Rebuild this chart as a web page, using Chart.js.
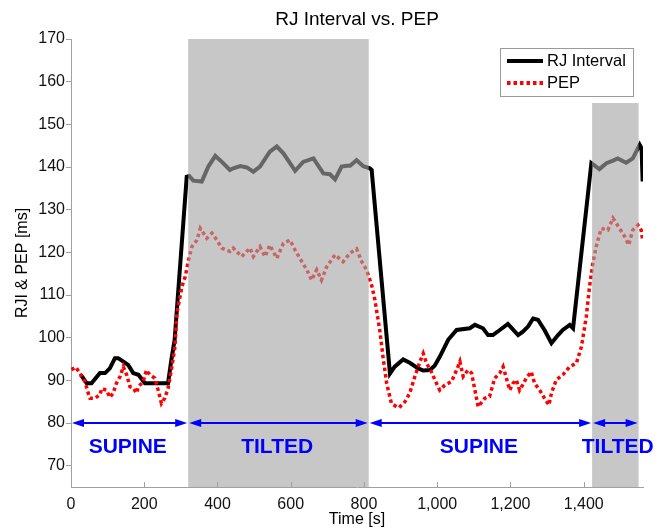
<!DOCTYPE html>
<html>
<head>
<meta charset="utf-8">
<script src="https://cdn.jsdelivr.net/npm/chart.js@4.4.0/dist/chart.umd.min.js"></script>
<style>
  html, body { margin: 0; padding: 0; background: #fff; }
</style>
</head>
<body>
<canvas id="rjChart" width="667" height="529"></canvas>
<script>
// RJ interval (black line), time in s / value in ms
const rjTime = [27, 43, 56, 79, 93, 106, 120, 129, 143, 156, 170, 184, 202, 265, 274, 283, 316, 323, 334, 357,
    375, 394, 412, 434, 443, 462, 480, 498, 516, 543, 562, 580, 598, 612, 634, 662, 689, 707, 721, 739,
    753, 762, 780, 798, 816, 821, 871, 884, 907, 925, 948, 962, 980, 993, 1007, 1030, 1053, 1089, 1103, 1125,
    1139, 1152, 1171, 1193, 1221, 1234, 1248, 1262, 1275, 1293, 1312, 1330, 1343, 1362, 1371, 1421, 1443, 1462, 1480, 1493,
    1516, 1534, 1553, 1558, 1561];
const rjValues = [91.3, 89.3, 89.3, 91.7, 91.7, 92.8, 95.2, 95.2, 94.4, 93.6, 91.7, 91.3, 89.3, 89.3, 94.8, 99.5, 137.7, 137.9, 136.8, 136.6,
    140.1, 142.6, 141.2, 139.3, 139.7, 140.2, 139.9, 138.9, 140.1, 143.6, 144.8, 143.2, 140.9, 139.1, 141.2, 142.0, 138.5, 138.3, 137.1, 140.1,
    140.3, 140.3, 141.6, 140.2, 139.7, 139.3, 91.6, 93.2, 94.9, 94.1, 92.8, 92.3, 92.4, 93.4, 95.5, 99.5, 101.8, 102.2, 103.0, 102.2,
    100.6, 100.6, 101.8, 103.2, 100.6, 101.4, 102.6, 104.5, 104.2, 101.8, 98.7, 100.6, 101.8, 103.0, 102.2, 140.9, 139.5, 140.9, 141.5, 142.0,
    141.0, 142.0, 145.2, 144.4, 136.6];

// PEP (red dotted line)
const pepTime = [1, 13, 24, 38, 47, 52, 65, 79, 84, 97, 106, 115, 124, 134, 143, 152, 161, 170, 179, 184,
    197, 206, 215, 229, 238, 247, 256, 265, 274, 284, 289, 303, 312, 321, 330, 344, 353, 371, 385, 398,
    412, 434, 443, 466, 489, 498, 516, 530, 543, 562, 580, 598, 612, 625, 644, 657, 671, 684, 698, 721,
    743, 762, 780, 794, 807, 821, 830, 843, 852, 862, 875, 889, 896, 912, 925, 939, 953, 962, 971, 984,
    998, 1007, 1021, 1039, 1053, 1062, 1071, 1084, 1094, 1103, 1112, 1130, 1143, 1157, 1171, 1180, 1189, 1198, 1207, 1216,
    1225, 1234, 1243, 1257, 1266, 1280, 1293, 1305, 1312, 1325, 1343, 1362, 1380, 1394, 1407, 1416, 1425, 1434, 1448, 1466,
    1480, 1498, 1512, 1523, 1534, 1548, 1557, 1561];
const pepValues = [92.5, 93.1, 91.7, 89.7, 87.0, 85.8, 85.8, 86.6, 88.1, 87.7, 86.0, 87.0, 89.3, 90.9, 93.2, 91.3, 88.5, 88.2, 87.0, 88.5,
    89.7, 92.4, 91.3, 90.5, 87.7, 84.6, 85.8, 88.1, 92.4, 97.9, 105.7, 112.0, 114.3, 118.2, 121.3, 122.9, 125.6, 123.3, 124.5, 122.9,
    121.0, 120.2, 121.0, 119.0, 121.0, 119.0, 121.3, 119.0, 121.7, 118.6, 122.1, 122.9, 120.5, 118.6, 115.9, 113.5, 115.9, 113.5, 116.6, 119.4,
    117.8, 119.8, 120.8, 117.8, 115.9, 112.3, 108.8, 101.8, 95.5, 89.3, 84.6, 83.8, 83.6, 85.0, 87.0, 90.9, 94.4, 96.3, 94.0, 92.0,
    89.3, 87.7, 88.9, 89.7, 92.4, 94.4, 90.9, 92.4, 91.7, 87.7, 83.8, 85.8, 86.2, 90.5, 91.7, 93.2, 90.5, 87.7, 89.3, 90.1,
    87.7, 89.0, 90.5, 92.0, 89.3, 87.7, 85.8, 84.2, 87.0, 90.1, 91.3, 93.2, 94.0, 97.9, 104.9, 112.0, 117.4, 121.3, 125.6, 125.2,
    128.0, 125.6, 123.7, 121.7, 125.2, 126.4, 125.2, 122.9];

// tilted periods (gray areas)
const tiltedFrom = [320, 1423];
const tiltedTo = [813, 1550];
const tiltedTop = [170, 155];

// phase arrows + names
const phaseFrom = [0, 320, 813, 1423];
const phaseTo = [320, 813, 1423, 1550];
const phaseNames = ['SUPINE', 'TILTED', 'SUPINE', 'TILTED'];
const phaseLabelX = [155, 563, 1114, 1493];
const arrowLevel = 80;
const phaseLabelLevel = 74.4;

const xTicks = [0, 200, 400, 600, 800, 1000, 1200, 1400];
const yTicks = [70, 80, 90, 100, 110, 120, 130, 140, 150, 160, 170];

const FONT = 'Arial, "Liberation Sans", sans-serif';
const axisGray = '#a0a0a0';

const toPoints = (xs, ys) => xs.map((t, i) => ({ x: t, y: ys[i] }));

// gray areas, inner x ticks, arrows and phase labels
const phasePlugin = {
    id: 'phases',
    afterDatasetsDraw(chart) {
        const { ctx, scales: { x, y } } = chart;
        ctx.save();

        // the shading goes over the lines, half transparent
        ctx.fillStyle = 'rgba(165,165,165,0.62)';
        tiltedFrom.forEach((from, i) => {
            const l = x.getPixelForValue(from);
            const r = x.getPixelForValue(tiltedTo[i]);
            const t = y.getPixelForValue(tiltedTop[i]);
            ctx.fillRect(l, t, r - l, y.bottom - t);
        });

        // x ticks point inwards
        ctx.strokeStyle = axisGray;
        ctx.lineWidth = 1;
        x.ticks.forEach(tk => {
            const px = Math.round(x.getPixelForValue(tk.value)) + 0.5;
            ctx.beginPath();
            ctx.moveTo(px, y.bottom);
            ctx.lineTo(px, y.bottom - 5);
            ctx.stroke();
        });

        // arrows
        const ay = y.getPixelForValue(arrowLevel);
        ctx.strokeStyle = '#0000ff';
        ctx.fillStyle = '#0000ff';
        ctx.lineWidth = 2;
        phaseFrom.forEach((from, i) => {
            const l = x.getPixelForValue(from) + 1;
            const r = x.getPixelForValue(phaseTo[i]) - 1;
            ctx.beginPath();
            ctx.moveTo(l + 6, ay);
            ctx.lineTo(r - 6, ay);
            ctx.stroke();
            ctx.beginPath();
            ctx.moveTo(l, ay);
            ctx.lineTo(l + 12, ay - 4);
            ctx.lineTo(l + 12, ay + 4);
            ctx.closePath();
            ctx.fill();
            ctx.beginPath();
            ctx.moveTo(r, ay);
            ctx.lineTo(r - 12, ay - 4);
            ctx.lineTo(r - 12, ay + 4);
            ctx.closePath();
            ctx.fill();
        });

        ctx.font = 'bold 21px ' + FONT;
        ctx.textAlign = 'center';
        ctx.textBaseline = 'middle';
        phaseNames.forEach((name, i) => {
            ctx.fillText(name, x.getPixelForValue(phaseLabelX[i]), y.getPixelForValue(phaseLabelLevel));
        });
        ctx.restore();
    },
    afterDraw(chart) {
        // legend box top right like matlab
        const ctx = chart.ctx;
        const ds = chart.data.datasets;
        ctx.save();
        ctx.fillStyle = '#fff';
        ctx.fillRect(500, 48, 133, 48);
        ctx.strokeStyle = '#9a9a9a';
        ctx.lineWidth = 1;
        ctx.strokeRect(500.5, 48.5, 133, 48);

        ctx.lineWidth = 4;
        ctx.strokeStyle = '#000';
        ctx.beginPath();
        ctx.moveTo(507, 61);
        ctx.lineTo(543, 61);
        ctx.stroke();

        ctx.strokeStyle = '#ff0000';
        ctx.setLineDash([3.5, 3]);
        ctx.beginPath();
        ctx.moveTo(507, 83);
        ctx.lineTo(543, 83);
        ctx.stroke();
        ctx.setLineDash([]);

        ctx.fillStyle = '#000';
        ctx.font = '16.5px ' + FONT;
        ctx.textAlign = 'left';
        ctx.textBaseline = 'middle';
        ctx.fillText(ds[0].label, 547, 61);
        ctx.fillText(ds[1].label, 547, 83);
        ctx.restore();
    }
};

new Chart(document.getElementById('rjChart'), {
    type: 'line',
    data: {
        datasets: [{
            label: 'RJ Interval',
            data: toPoints(rjTime, rjValues),
            borderColor: '#000000',
            borderWidth: 4,
            pointRadius: 0,
            tension: 0,
            order: 2
        }, {
            label: 'PEP',
            data: toPoints(pepTime, pepValues),
            borderColor: '#ff0000',
            borderWidth: 3.5,
            borderDash: [3.5, 3],
            pointRadius: 0,
            tension: 0,
            order: 1
        }]
    },
    options: {
        responsive: false,
        animation: false,
        locale: 'en-US',
        layout: { padding: { left: 0, right: 24, top: 0, bottom: 0 } },
        plugins: {
            legend: { display: false },
            tooltip: { enabled: false },
            title: {
                display: true,
                text: 'RJ Interval vs. PEP',
                fullSize: false,
                color: '#000',
                font: { family: FONT, size: 19, weight: 'normal' },
                padding: { top: 8, bottom: 8.2 }
            }
        },
        scales: {
            x: {
                type: 'linear',
                min: 0,
                max: 1562,
                afterBuildTicks: s => { s.ticks = xTicks.map(v => ({ value: v })); },
                afterFit: s => { s.height = 42; },
                grid: { display: true, drawOnChartArea: false, drawTicks: false },
                border: { display: true, color: axisGray },
                ticks: { color: '#111', padding: 8, font: { family: FONT, size: 16 } },
                title: {
                    display: true,
                    text: 'Time [s]',
                    color: '#000',
                    font: { family: FONT, size: 16 },
                    padding: { top: 0, bottom: 0 }
                }
            },
            y: {
                min: 65,
                max: 170,
                afterBuildTicks: s => { s.ticks = yTicks.map(v => ({ value: v })); },
                afterFit: s => { s.width = 71; },
                grid: { display: true, drawOnChartArea: false, drawTicks: true, tickLength: 5, color: axisGray },
                border: { display: true, color: axisGray },
                ticks: { color: '#111', padding: 1, font: { family: FONT, size: 16 } },
                title: {
                    display: true,
                    text: 'RJI & PEP [ms]',
                    color: '#000',
                    font: { family: FONT, size: 16 },
                    padding: { top: 13, bottom: 0 }
                }
            }
        }
    },
    plugins: [phasePlugin]
});
</script>
</body>
</html>
